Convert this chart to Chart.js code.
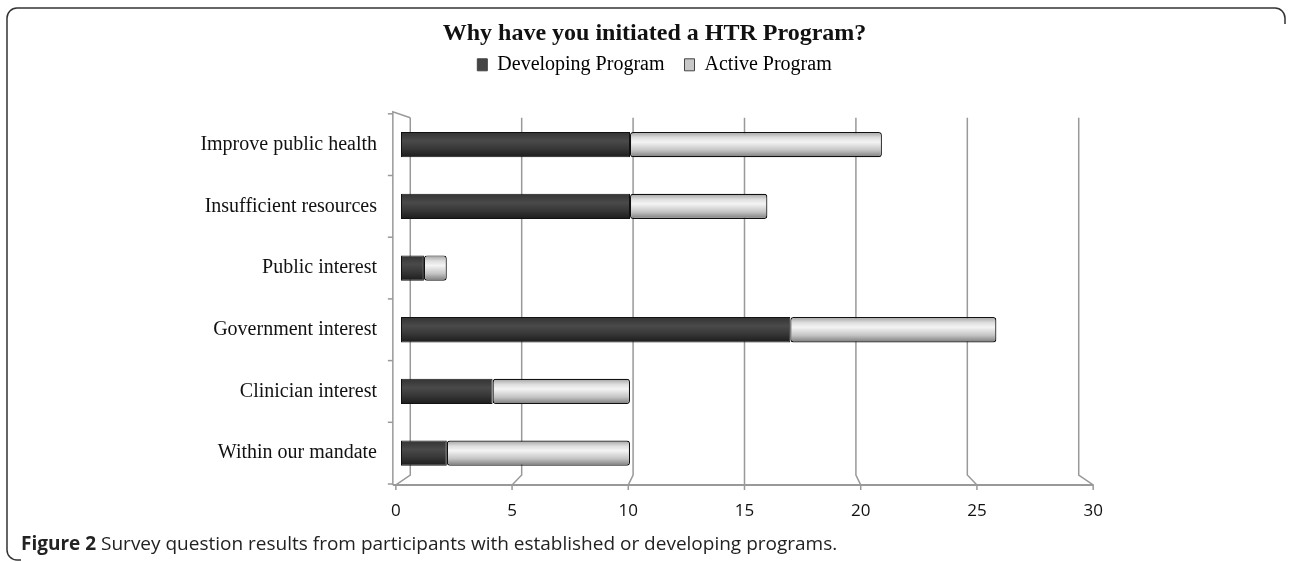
<!DOCTYPE html>
<html>
<head>
<meta charset="utf-8">
<script src="https://cdn.jsdelivr.net/npm/chart.js@4.4.0/dist/chart.umd.min.js"></script>
<style>
  html, body { margin: 0; padding: 0; background: #fff; }
  #wrap { position: relative; width: 1289px; height: 562px; }
  #caption {
    position: absolute; left: 21px; top: 530px;
    font: 19px 'Open Sans', sans-serif; color: #222; white-space: nowrap;
  }
</style>
</head>
<body>
<div id="wrap">
  <canvas id="chart" width="1289" height="562" style="width:1289px;height:562px"></canvas>
  <div id="caption"><b>Figure 2</b> Survey question results from participants with established or developing programs.</div>
</div>
<script>
const categories = [
  'Improve public health',
  'Insufficient resources',
  'Public interest',
  'Government interest',
  'Clinician interest',
  'Within our mandate'
];
const developing = [10, 10, 1, 17, 4, 2];
const active = [11, 6, 1, 9, 6, 8];
const xTicks = [0, 5, 10, 15, 20, 25, 30];

const BAR_PCT = 0.41;

// cylinder-ish shading for the bars
function barFill(light) {
  return (c) => {
    const chart = c.chart;
    const y = chart.scales.y;
    if (!chart.chartArea || !y || c.dataIndex === undefined) return light ? '#d0d0d0' : '#3a3a3a';
    const mid = y.getPixelForValue(c.dataIndex);
    const h = Math.abs(y.getPixelForValue(1) - y.getPixelForValue(0)) * BAR_PCT;
    const g = chart.ctx.createLinearGradient(0, mid - h / 2, 0, mid + h / 2);
    if (light) {
      g.addColorStop(0, '#a0a0a0');
      g.addColorStop(0.22, '#dedede');
      g.addColorStop(0.4, '#f4f4f4');
      g.addColorStop(0.72, '#c4c4c4');
      g.addColorStop(1, '#7a7a7a');
    } else {
      g.addColorStop(0, '#333');
      g.addColorStop(0.35, '#4a4a4a');
      g.addColorStop(0.65, '#383838');
      g.addColorStop(1, '#1c1c1c');
    }
    return g;
  };
}

// draws the Excel-style 3D walls, axes and x labels
const axes3d = {
  id: 'axes3d',
  beforeDatasetsDraw(chart) {
    const { ctx, chartArea: a, scales: { x, y } } = chart;
    const cx = x.getPixelForValue(15);
    const front = v => cx + (x.getPixelForValue(v) - cx) * 1.015;
    const back = v => cx + (x.getPixelForValue(v) - cx) * 0.973;
    const backTop = a.top + 4, backBot = a.bottom - 9, frontBot = a.bottom + 1;

    ctx.save();
    ctx.strokeStyle = '#999';
    ctx.lineWidth = 1.5;
    // vertical gridlines on the back wall with the jog to the front
    xTicks.forEach(v => {
      ctx.beginPath();
      ctx.moveTo(back(v), backTop);
      ctx.lineTo(back(v), backBot);
      ctx.lineTo(front(v), frontBot);
      ctx.lineTo(front(v), frontBot + 5);
      ctx.stroke();
    });
    // left axis (front) with category ticks
    const lx = front(0) - 3;
    ctx.beginPath();
    ctx.moveTo(back(0), backTop);
    ctx.lineTo(lx, a.top - 2);
    ctx.lineTo(lx, frontBot);
    ctx.stroke();
    for (let i = 0; i <= categories.length; i++) {
      const ty = Math.min(Math.max(y.getPixelForValue(i - 0.5), a.top - 2), frontBot);
      ctx.beginPath();
      ctx.moveTo(lx - 5, ty);
      ctx.lineTo(lx, ty);
      ctx.stroke();
    }
    // bottom axis line
    ctx.lineWidth = 2;
    ctx.beginPath();
    ctx.moveTo(lx, frontBot);
    ctx.lineTo(front(30), frontBot);
    ctx.stroke();

    // x tick labels
    ctx.fillStyle = '#111';
    ctx.font = "17px 'Open Sans', sans-serif";
    ctx.textAlign = 'center';
    ctx.textBaseline = 'middle';
    x.ticks.forEach(t => ctx.fillText(String(t.value), front(t.value), frontBot + 26));
    ctx.restore();
  },
  afterDraw(chart) {
    // figure frame
    const ctx = chart.ctx;
    const L = 7, T = 8, R = 1285, B = 560, r = 10;
    ctx.save();
    ctx.strokeStyle = '#333';
    ctx.lineWidth = 1.5;
    ctx.beginPath();
    ctx.moveTo(R, T + 16);
    ctx.arcTo(R, T, R - r, T, r);
    ctx.lineTo(L + r, T);
    ctx.arcTo(L, T, L, T + r, r);
    ctx.lineTo(L, B - r);
    ctx.arcTo(L, B, L + r, B, r);
    ctx.lineTo(L + 14, B);
    ctx.stroke();
    ctx.restore();
  }
};

new Chart(document.getElementById('chart'), {
  type: 'bar',
  data: {
    labels: categories,
    datasets: [
      {
        label: 'Developing Program',
        data: developing,
        backgroundColor: barFill(false),
        borderColor: '#111',
        borderWidth: 1,
        borderSkipped: false,
        borderRadius: 2
      },
      {
        label: 'Active Program',
        data: active,
        backgroundColor: barFill(true),
        borderColor: '#111',
        borderWidth: 1.2,
        borderSkipped: false,
        borderRadius: 3
      }
    ]
  },
  options: {
    indexAxis: 'y',
    responsive: false,
    animation: false,
    barPercentage: BAR_PCT,
    categoryPercentage: 1,
    layout: { padding: { left: 20, right: 0, top: 10, bottom: 0 } },
    plugins: {
      title: {
        display: true,
        text: 'Why have you initiated a HTR Program?',
        color: '#111',
        font: { family: "'Liberation Serif', serif", size: 24, weight: 'bold' },
        padding: { top: 9, bottom: -13 }
      },
      legend: {
        display: true,
        position: 'top',
        labels: {
          color: '#111',
          font: { family: "'Liberation Serif', serif", size: 20 },
          boxWidth: 10,
          boxHeight: 12,
          padding: 20,
          generateLabels: () => [
            { text: 'Developing Program', fillStyle: '#444', strokeStyle: '#444', lineWidth: 1, datasetIndex: 0 },
            { text: 'Active Program', fillStyle: '#c8c8c8', strokeStyle: '#444', lineWidth: 1, datasetIndex: 1 }
          ]
        }
      },
      tooltip: { enabled: false }
    },
    scales: {
      x: {
        stacked: true,
        min: 0,
        max: 30,
        ticks: { stepSize: 5, display: false },
        grid: { display: false },
        border: { display: false },
        afterFit: s => { s.height = 78; }
      },
      // spacer axes that only reserve room
      xTop: {
        type: 'linear',
        position: 'top',
        ticks: { display: false },
        grid: { display: false },
        border: { display: false },
        afterFit: s => { s.height = 29; }
      },
      y: {
        stacked: true,
        grid: { display: false, drawTicks: false },
        border: { display: false },
        ticks: {
          color: '#111',
          padding: 24,
          font: { family: "'Liberation Serif', serif", size: 20 }
        },
        afterFit: s => { s.width = 381; }
      },
      yRight: {
        type: 'linear',
        position: 'right',
        ticks: { display: false },
        grid: { display: false },
        border: { display: false },
        afterFit: s => { s.width = 201; }
      }
    }
  },
  plugins: [axes3d]
});
</script>
</body>
</html>
